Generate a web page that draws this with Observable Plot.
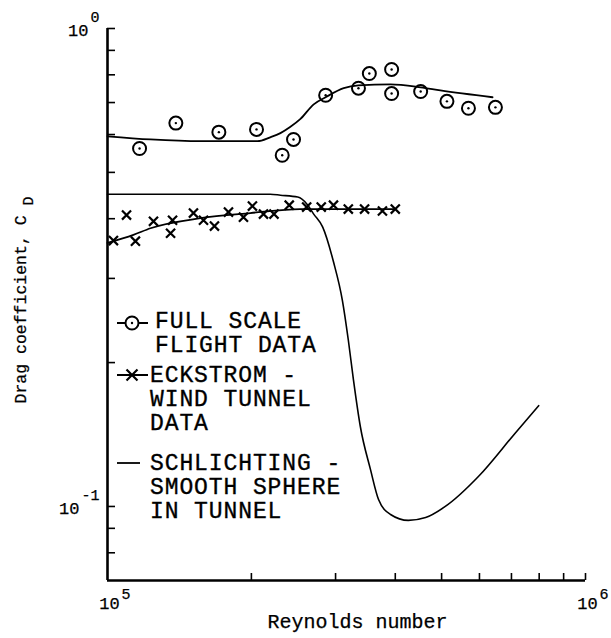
<!DOCTYPE html>
<html><head><meta charset="utf-8">
<script src="https://cdn.jsdelivr.net/npm/d3@7"></script>
<script src="https://cdn.jsdelivr.net/npm/@observablehq/plot@0.6"></script>
<style>html,body{margin:0;padding:0;background:#fff;} #chart svg{display:block;}</style>
</head><body><div id="chart"></div>
<script>
// Full scale flight data (circles)
const flightRe = [1.167e5, 1.39e5, 1.71e5, 2.05e5, 2.32e5, 2.45e5, 2.86e5, 3.35e5, 3.53e5, 3.93e5, 3.93e5, 4.52e5, 5.13e5, 5.69e5, 6.48e5];
const flightCd = [0.561, 0.634, 0.607, 0.615, 0.543, 0.586, 0.725, 0.750, 0.805, 0.821, 0.731, 0.738, 0.704, 0.681, 0.684];
// Fair curve through flight data
const flightFitRe = [1.0e5, 1.23e5, 1.565e5, 1.897e5, 2.06e5, 2.19e5, 2.30e5, 2.41e5, 2.53e5, 2.70e5, 2.86e5, 3.12e5, 3.35e5, 3.91e5, 4.52e5, 4.97e5, 6.39e5];
const flightFitCd = [0.595, 0.586, 0.581, 0.581, 0.581, 0.592, 0.604, 0.622, 0.646, 0.694, 0.718, 0.750, 0.760, 0.764, 0.753, 0.742, 0.718];
// Eckstrom wind tunnel data (crosses)
const eckRe = [1.029e5, 1.096e5, 1.144e5, 1.248e5, 1.355e5, 1.368e5, 1.513e5, 1.588e5, 1.674e5, 1.791e5, 1.925e5, 2.01e5, 2.12e5, 2.23e5, 2.40e5, 2.61e5, 2.80e5, 2.97e5, 3.19e5, 3.45e5, 3.76e5, 4.00e5];
const eckCd = [0.360, 0.407, 0.359, 0.395, 0.373, 0.397, 0.411, 0.397, 0.386, 0.413, 0.403, 0.425, 0.409, 0.409, 0.427, 0.423, 0.423, 0.427, 0.419, 0.419, 0.415, 0.419];
const eckFitRe = [1.0e5, 1.133e5, 1.23e5, 1.565e5, 1.99e5, 2.53e5, 4.0e5];
const eckFitCd = [0.356, 0.370, 0.382, 0.401, 0.411, 0.419, 0.419];
// Schlichting smooth sphere in tunnel
const schRe = [1.0e5, 1.565e5, 2.19e5, 2.30e5, 2.50e5, 2.62e5, 2.70e5, 2.82e5, 2.97e5, 3.10e5, 3.19e5, 3.27e5, 3.38e5, 3.55e5, 3.69e5, 3.91e5, 4.26e5, 4.63e5, 5.09e5, 5.97e5, 7.14e5, 7.98e5];
const schCd = [0.450, 0.450, 0.450, 0.448, 0.444, 0.428, 0.409, 0.384, 0.325, 0.270, 0.223, 0.184, 0.147, 0.1194, 0.1034, 0.0962, 0.0935, 0.0948, 0.100, 0.1155, 0.1427, 0.1625];
// Axis ticks and labels
const xTicks = [2e5, 3e5, 4e5, 5e5, 6e5, 7e5, 8e5, 9e5, 1e6];
const yTicks = [0.08, 0.09, 0.1, 0.2, 0.3, 0.4, 0.5, 0.6, 0.7, 0.8, 0.9, 1.0];
const xLabelTicks = [1e5, 1e6];
const xLabelExp = ["5", "6"];
const yLabelTicks = [1, 0.1];
const yLabelExp = ["0", "-1"];
const xTitle = "Reynolds number";
const yTitle = "Drag coefficient, C";
const yTitleSub = "D";
const legendEntries = [
  ["FULL SCALE", "FLIGHT DATA"],
  ["ECKSTROM -", "WIND TUNNEL", "DATA"],
  ["SCHLICHTING -", "SMOOTH SPHERE", "IN TUNNEL"]
];

const FONT = "'Liberation Mono', 'Courier New', monospace";
const zip = (a, b) => a.map((v, i) => ({x: v, y: b[i]}));
const flight = zip(flightRe, flightCd);
const flightFit = zip(flightFitRe, flightFitCd);
const eck = zip(eckRe, eckCd);
const eckFit = zip(eckFitRe, eckFitCd);
const sch = zip(schRe, schCd);
const yLab = yLabelTicks.map((v, i) => ({v, e: yLabelExp[i]}));
const xLab = xLabelTicks.map((v, i) => ({v, e: xLabelExp[i]}));
const ink = {fill: "#000", stroke: "#000", strokeWidth: 0.25, paintOrder: "normal"};

const plot = Plot.plot({
  width: 611, height: 638,
  marginLeft: 107, marginRight: 26, marginTop: 28, marginBottom: 58,
  style: {fontFamily: FONT, background: "#fff", color: "#000", overflow: "visible"},
  x: {type: "log", domain: [1e5, 1e6], axis: null},
  y: {type: "log", domain: [0.07, 1], axis: null},
  marks: [
    Plot.axisY({ticks: yTicks, tickSize: -8, tickFormat: () => "", strokeWidth: 1.6, label: null}),
    Plot.axisX({ticks: xTicks, tickSize: -7, tickFormat: () => "", strokeWidth: 1.6, label: null}),
    Plot.ruleX([1e5], {y1: 0.07, y2: 1, strokeWidth: 2.6}),
    Plot.ruleY([0.07], {x1: 1e5, x2: 1e6, strokeWidth: 2.6}),
    // tick labels
    ...yLab.map(d => Plot.text([d], {frameAnchor: "left", y: "v", text: () => "10", textAnchor: "end", fontSize: 17, ...ink, dx: -10 - d.e.length * 9, dy: 2})),
    Plot.text(yLab, {frameAnchor: "left", y: "v", text: "e", textAnchor: "end", fontSize: 15, ...ink, dx: -8, dy: -11}),
    Plot.text(xLab, {frameAnchor: "bottom", x: "v", text: () => "10", textAnchor: "middle", lineAnchor: "bottom", fontSize: 17, ...ink, dx: 2, dy: 28}),
    Plot.text(xLab, {frameAnchor: "bottom", x: "v", text: "e", textAnchor: "start", lineAnchor: "bottom", fontSize: 15, ...ink, dx: 14, dy: 18}),
    // axis titles
    Plot.text([xTitle], {frameAnchor: "bottom-left", text: d => d, textAnchor: "start", lineAnchor: "bottom", fontSize: 20, ...ink, dx: 160, dy: 47}),
    Plot.text([yTitle], {frameAnchor: "bottom-left", text: d => d, rotate: -90, textAnchor: "start", lineAnchor: "bottom", fontSize: 16.5, ...ink, dx: -82, dy: -177}),
    Plot.text([yTitleSub], {frameAnchor: "bottom-left", text: d => d, rotate: -90, textAnchor: "start", lineAnchor: "bottom", fontSize: 15, ...ink, dx: -75, dy: -375}),
    // curves
    Plot.line(sch, {x: "x", y: "y", curve: "monotone-x", strokeWidth: 1.6}),
    Plot.line(eckFit, {x: "x", y: "y", curve: "monotone-x", strokeWidth: 1.8}),
    Plot.line(flightFit, {x: "x", y: "y", curve: "monotone-x", strokeWidth: 1.8}),
    // data points
    Plot.dot(eck, {x: "x", y: "y", symbol: "times", r: 4.2, stroke: "#000", strokeWidth: 2.2}),
    Plot.dot(flight, {x: "x", y: "y", r: 6.5, stroke: "#000", fill: "none", strokeWidth: 2}),
    Plot.dot(flight, {x: "x", y: "y", r: 1.2, fill: "#000", stroke: "none"})
  ]
});
document.getElementById("chart").appendChild(plot);

// Legend inside the frame
const svg = d3.select(plot);
const lg = svg.append("g").attr("class", "legend").attr("stroke", "#000").attr("fill", "none");
// circle symbol
lg.append("line").attr("x1", 117).attr("x2", 125.5).attr("y1", 323).attr("y2", 323).attr("stroke-width", 2);
lg.append("line").attr("x1", 138.5).attr("x2", 148).attr("y1", 323).attr("y2", 323).attr("stroke-width", 2);
lg.append("circle").attr("cx", 132).attr("cy", 323).attr("r", 6.5).attr("stroke-width", 2);
lg.append("circle").attr("cx", 132).attr("cy", 323).attr("r", 1.2).attr("fill", "#000").attr("stroke", "none");
// cross symbol
lg.append("line").attr("x1", 117).attr("x2", 148).attr("y1", 375).attr("y2", 375).attr("stroke-width", 2);
lg.append("path").attr("d", "M126.5,369.5L137.5,380.5M137.5,369.5L126.5,380.5").attr("stroke-width", 2.2);
// line symbol
lg.append("line").attr("x1", 117).attr("x2", 140).attr("y1", 463).attr("y2", 463).attr("stroke-width", 1.8);
const lt = svg.append("g").attr("font-family", FONT).attr("font-size", 23).attr("text-anchor", "start")
  .attr("fill", "#000").attr("stroke", "#000").attr("stroke-width", 0.35);
const starts = [[155, 328], [150, 382], [150, 470]];
legendEntries.forEach((lines, gi) => {
  lines.forEach((t, li) => {
    lt.append("text").attr("x", starts[gi][0]).attr("y", starts[gi][1] + li * 24)
      .attr("text-anchor", "start").attr("letter-spacing", "0.9px").text(t);
  });
});
</script></body></html>
